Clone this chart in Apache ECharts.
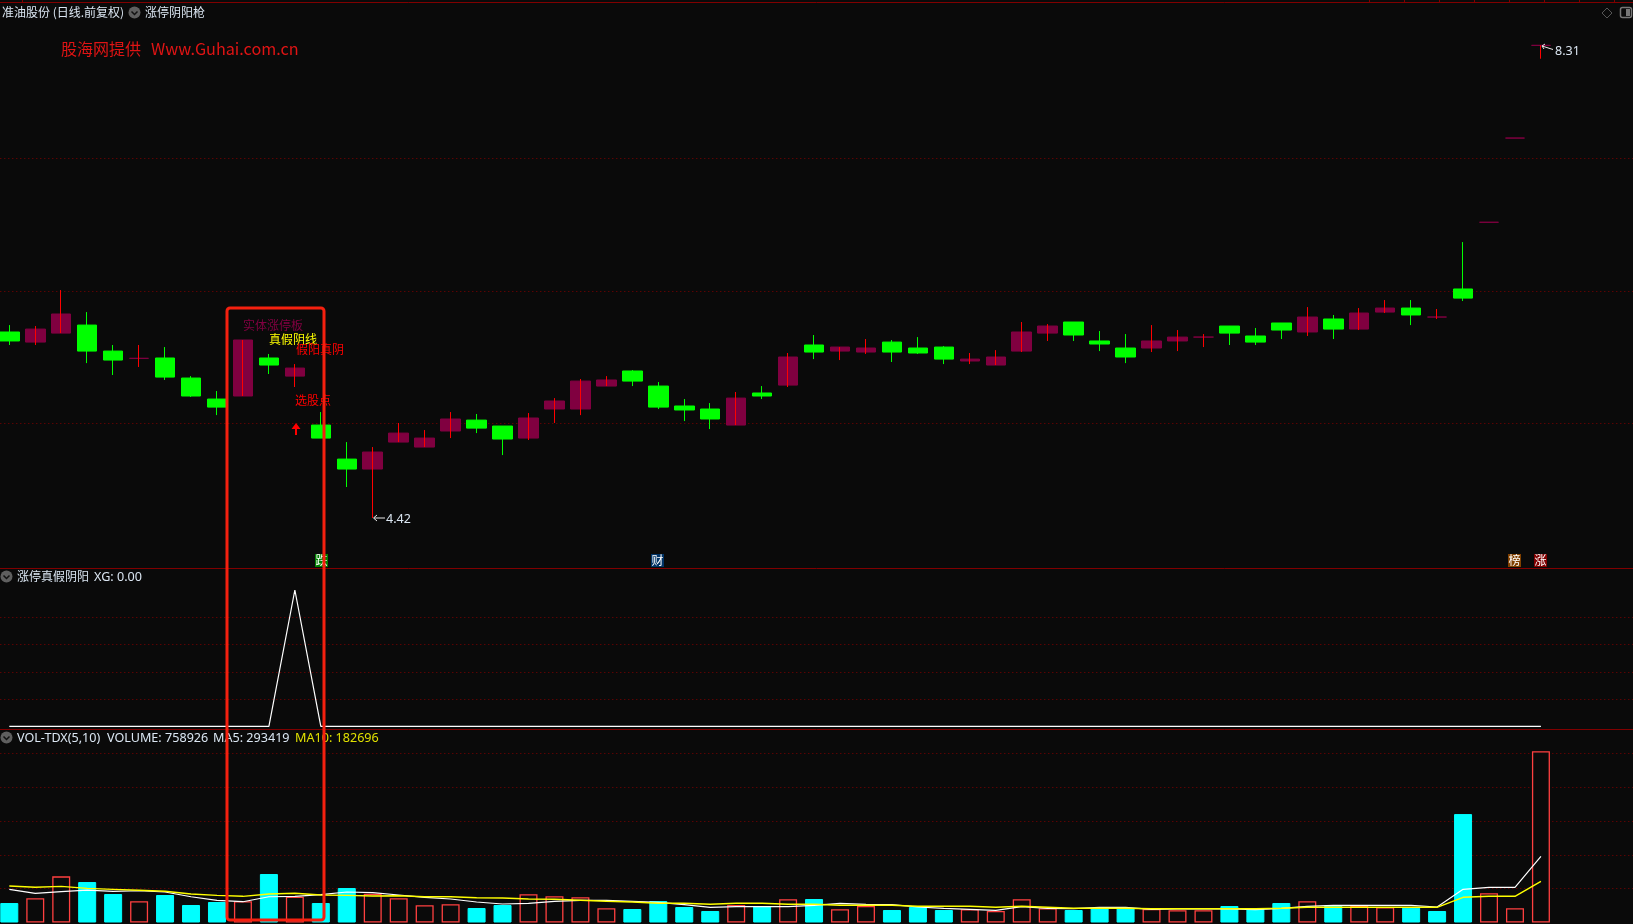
<!DOCTYPE html>
<html>
<head>
<meta charset="utf-8">
<style>html,body{margin:0;padding:0;background:#0a0a0a;overflow:hidden}#c{width:1633px;height:924px}</style>
<script src="https://cdn.jsdelivr.net/npm/echarts@6/dist/echarts.min.js"></script>
</head>
<body>
<div id="c"></div>
<script>
const opens=[5.951,5.868,5.942,6.008,5.794,5.734,5.737,5.572,5.399,5.424,5.737,5.588,5.185,4.905,4.823,5.045,5.004,5.136,5.226,5.177,5.078,5.317,5.317,5.506,5.630,5.506,5.342,5.317,5.185,5.449,5.514,5.844,5.794,5.786,5.868,5.819,5.827,5.712,5.679,5.794,5.942,6.033,5.877,5.819,5.819,5.877,5.909,6.000,5.918,6.025,5.951,6.058,5.975,6.115,6.148,6.074,6.305,6.854,7.547,8.31];
const closes=[5.877,5.975,6.099,5.794,5.720,5.734,5.580,5.424,5.333,5.885,5.679,5.654,5.078,4.823,4.963,5.119,5.078,5.235,5.160,5.070,5.243,5.383,5.547,5.556,5.547,5.333,5.309,5.235,5.407,5.424,5.745,5.786,5.827,5.819,5.786,5.778,5.728,5.728,5.745,5.951,6.000,5.926,5.852,5.745,5.877,5.909,5.909,5.942,5.868,5.967,6.074,5.975,6.107,6.148,6.091,6.074,6.230,6.854,7.547,8.31];
const lows=[5.844,5.844,5.942,5.695,5.597,5.663,5.556,5.416,5.267,5.424,5.605,5.498,5.078,4.675,4.420,5.045,5.004,5.078,5.119,4.938,5.062,5.202,5.267,5.506,5.506,5.317,5.218,5.152,5.185,5.399,5.498,5.728,5.720,5.770,5.704,5.770,5.687,5.687,5.679,5.786,5.877,5.877,5.794,5.695,5.786,5.794,5.827,5.844,5.844,5.893,5.918,5.893,5.967,6.107,6.008,6.058,6.206,6.854,7.547,8.200];
const highs=[6.008,6.000,6.296,6.115,5.844,5.844,5.827,5.588,5.465,5.885,5.770,5.687,5.292,5.045,5.004,5.202,5.144,5.292,5.276,5.177,5.284,5.407,5.564,5.588,5.638,5.539,5.399,5.366,5.457,5.506,5.778,5.926,5.827,5.893,5.885,5.909,5.835,5.778,5.802,6.033,6.016,6.033,5.959,5.934,6.008,5.967,5.934,6.000,5.984,6.025,6.156,6.091,6.148,6.214,6.214,6.140,6.691,6.854,7.547,8.31];
const volumes=[86300,107200,204600,179300,126200,93900,121800,77500,90800,93900,214800,114200,86300,152800,127500,107200,76200,80600,64200,77500,124900,116000,111600,62900,59800,95200,68600,50900,77500,73100,102700,104100,58500,73100,55400,68600,55400,58500,50900,102700,62900,55400,62900,62900,59800,54000,54000,73100,59800,86300,93900,76200,73100,67300,65500,50900,480400,129300,62900,758926];
const volumeFalling=[1,0,0,1,1,0,1,1,1,0,1,0,1,1,0,0,0,0,1,1,0,0,0,0,1,1,1,1,0,1,0,1,0,0,1,1,1,0,0,0,0,1,1,1,0,0,0,1,1,1,0,1,0,0,1,1,1,0,0,0];
const ma5=[147000,129300,136400,143900,138200,140800,135100,114200,98300,92100,114200,116000,123100,135100,132000,121800,111600,104100,90800,81900,85000,93900,98300,98300,93900,89400,78800,67300,70000,70000,70000,76200,85000,80600,78800,68600,62900,58500,54000,70000,62900,61100,67300,67300,58500,59800,59800,59800,56700,62900,71700,76200,76200,76200,76200,68600,147000,155900,155900,293419];
const ma10=[161600,155900,160300,151400,147000,142600,138200,126200,120400,116000,126200,129300,121800,120400,117300,118700,114200,114200,109800,108500,104100,102700,98300,93900,90800,85000,85000,80600,85000,85000,80600,80600,76200,76200,76200,71700,71700,71700,67300,71700,67300,62900,62900,62900,61100,61100,61100,61100,61100,62900,67300,67300,67300,67300,67300,67300,111600,116000,116000,182696];
const signal=[0,0,0,0,0,0,0,0,0,0,0,1,0,0,0,0,0,0,0,0,0,0,0,0,0,0,0,0,0,0,0,0,0,0,0,0,0,0,0,0,0,0,0,0,0,0,0,0,0,0,0,0,0,0,0,0,0,0,0,0];
const categories=opens.concat([0,0,0,0]).map((_,i)=>String(i));

const BG='#0a0a0a', MAROON='#800040', GREEN='#00ff00', RED='#ff0000', HOLLOW='#ff4040', CYAN='#00ffff', GRID='#800000';
const TXT='#dbe6f2';
const FONT='"Noto Sans CJK SC","Noto Sans",sans-serif';
const LATIN='"Noto Sans","Noto Sans CJK SC",sans-serif';

function xAxis(g){return {type:'category',gridIndex:g,data:categories,boundaryGap:true,show:false};}
function yAxis(g,min,max,interval){return {type:'value',gridIndex:g,min,max,interval,
  axisLine:{show:false},axisTick:{show:false},axisLabel:{show:false},
  splitLine:{show:true,showMinLine:false,showMaxLine:false,lineStyle:{color:GRID,width:1,type:[1,3]}}};}

const bodyData=opens.map((o,i)=>{const c=closes[i];return [o,c,Math.min(o,c),Math.max(o,c)];});
const wickData=opens.map((o,i)=>[o,closes[i],lows[i],highs[i]]);
const volData=volumes.map((v,i)=>({value:v,itemStyle:volumeFalling[i]
  ?{color:CYAN,borderColor:CYAN,borderWidth:1}
  :{color:BG,borderColor:HOLLOW,borderWidth:1.3}}));

function text(t,x,y,fill,size,family){return {type:'text',x,y,z:50,silent:true,
  style:{text:t,fill,font:(size||12)+'px '+(family||FONT),verticalAlign:'middle',align:'left'}};}
function hline(y,col){return {type:'line',z:40,silent:true,shape:{x1:0,y1:y,x2:1633,y2:y},style:{stroke:col||GRID,lineWidth:1}};}
function circleIcon(cx,cy){return [
  {type:'circle',z:50,silent:true,shape:{cx,cy,r:6},style:{fill:'#5f5f5f'}},
  {type:'polyline',z:51,silent:true,shape:{points:[[cx-3,cy-1],[cx,cy+2],[cx+3,cy-1]]},style:{stroke:'#111',lineWidth:1.5,fill:null}}
];}
function badge(t,x,col){return [
  {type:'rect',z:50,silent:true,shape:{x,y:554,width:13,height:13},style:{fill:col}},
  {type:'text',z:51,silent:true,x:x+6.5,y:560.5,style:{text:t,fill:'#fff',font:'12px '+FONT,align:'center',verticalAlign:'middle'}}
];}
const topTicks=[22.5,1369.5,1404.5,1439.5,1474.5,1509.5,1544.5,1579.5,1614.5].map(x=>({type:'line',z:40,silent:true,shape:{x1:x,y1:0,x2:x,y2:3},style:{stroke:GRID,lineWidth:1}}));

const graphic=[
  hline(2.5),hline(568.5),hline(729.5),
  ...topTicks,
  text('准油股份 (日线.前复权)',2,12,TXT),
  ...circleIcon(134.5,12.5),
  text('涨停阴阳枪',145,12,TXT),
  text('股海网提供',61,49,'#e01414',16),
  text('Www.Guhai.com.cn',151,49,'#e01414',16.2),
  {type:'polygon',z:50,silent:true,shape:{points:[[1607,8],[1612,13],[1607,18],[1602,13]]},style:{stroke:'#555',fill:null,lineWidth:1}},
  {type:'rect',z:50,silent:true,shape:{x:1620.5,y:7.5,width:11,height:10,r:2},style:{stroke:'#777',fill:null,lineWidth:1.5}},
  {type:'rect',z:50,silent:true,shape:{x:1626,y:9,width:4,height:7},style:{fill:'#777'}},
  text('实体涨停板',243,325,MAROON),
  text('真假阴线',269,339,'#ffff00'),
  text('假阳真阴',296,349,'#ff0000'),
  text('选股点',295,400.5,'#ff0000'),
  {type:'polygon',z:50,silent:true,shape:{points:[[296,423],[300.5,429],[297,429],[297,435],[295,435],[295,429],[291.5,429]]},style:{fill:'#ff0000'}},
  {type:'polyline',z:50,silent:true,shape:{points:[[377,515],[373.5,518],[377,521]]},style:{stroke:'#e8e8e8',fill:null,lineWidth:1}},
  {type:'line',z:50,silent:true,shape:{x1:374,y1:518,x2:385,y2:518},style:{stroke:'#e8e8e8',lineWidth:1}},
  text('4.42',386,519,TXT,12.5,LATIN),
  {type:'line',z:50,silent:true,shape:{x1:1542,y1:46,x2:1553,y2:49.5},style:{stroke:'#e8e8e8',lineWidth:1}},
  {type:'polyline',z:50,silent:true,shape:{points:[[1545,44],[1542,46],[1544,49]]},style:{stroke:'#e8e8e8',fill:null,lineWidth:1}},
  text('8.31',1555,51.5,TXT,12.5,LATIN),
  ...badge('跌',315,'#008000'),
  ...badge('财',651,'#003366'),
  ...badge('榜',1508,'#804000'),
  ...badge('涨',1534,'#800000'),
  ...circleIcon(6.5,576.5),
  text('涨停真假阴阳',17,576,TXT),
  text('XG: 0.00',94,577,TXT,12.6,LATIN),
  ...circleIcon(6.5,737.5),
  text('VOL-TDX(5,10)',17,738.5,TXT,12.6,LATIN),
  text('VOLUME: 758926',107,738.5,TXT,12.6,LATIN),
  text('MA5: 293419',213,738.5,TXT,12.6,LATIN),
  text('MA10: 182696',295,738.5,'#e0e000',12.6,LATIN),
  {type:'rect',z:100,silent:true,shape:{x:227,y:308,width:97,height:612,r:3},style:{stroke:'#f5200f',fill:null,lineWidth:3}}
];

const gridBase={left:-3.68,width:1661.44,outerBoundsMode:'none',containLabel:false};
const chart=echarts.init(document.getElementById('c'),null,{renderer:'canvas'});
chart.setOption({
  animation:false,
  backgroundColor:BG,
  tooltip:{show:false},
  grid:[
    Object.assign({top:25.8,height:530},gridBase),
    Object.assign({top:590,height:136.3},gridBase),
    Object.assign({top:719.4,height:203.1},gridBase)
  ],
  xAxis:[xAxis(0),xAxis(1),xAxis(2)],
  yAxis:[yAxis(0,4.109,8.471,1.0905),yAxis(1,0,1,0.2),yAxis(2,0,900000,150000)],
  series:[
    {name:'实体',type:'candlestick',xAxisIndex:0,yAxisIndex:0,data:bodyData,barWidth:20,z:2,
     itemStyle:{color:MAROON,color0:GREEN,borderColor:MAROON,borderColor0:GREEN,borderColorDoji:MAROON,borderWidth:1}},
    {name:'影线',type:'candlestick',xAxisIndex:0,yAxisIndex:0,data:wickData,barWidth:1,z:3,
     itemStyle:{color:RED,color0:GREEN,borderColor:RED,borderColor0:GREEN,borderColorDoji:RED,borderWidth:1}},
    {name:'XG',type:'line',xAxisIndex:1,yAxisIndex:1,data:signal,symbol:'none',z:3,clip:false,
     lineStyle:{color:'#ffffff',width:1.2}},
    {name:'VOLUME',type:'bar',xAxisIndex:2,yAxisIndex:2,data:volData,barWidth:18,z:2},
    {name:'MA5',type:'line',xAxisIndex:2,yAxisIndex:2,data:ma5,symbol:'none',z:4,lineStyle:{color:'#ffffff',width:1.2}},
    {name:'MA10',type:'line',xAxisIndex:2,yAxisIndex:2,data:ma10,symbol:'none',z:5,lineStyle:{color:'#ffff00',width:1.4}}
  ],
  graphic:{elements:graphic}
});
</script>
</body>
</html>
